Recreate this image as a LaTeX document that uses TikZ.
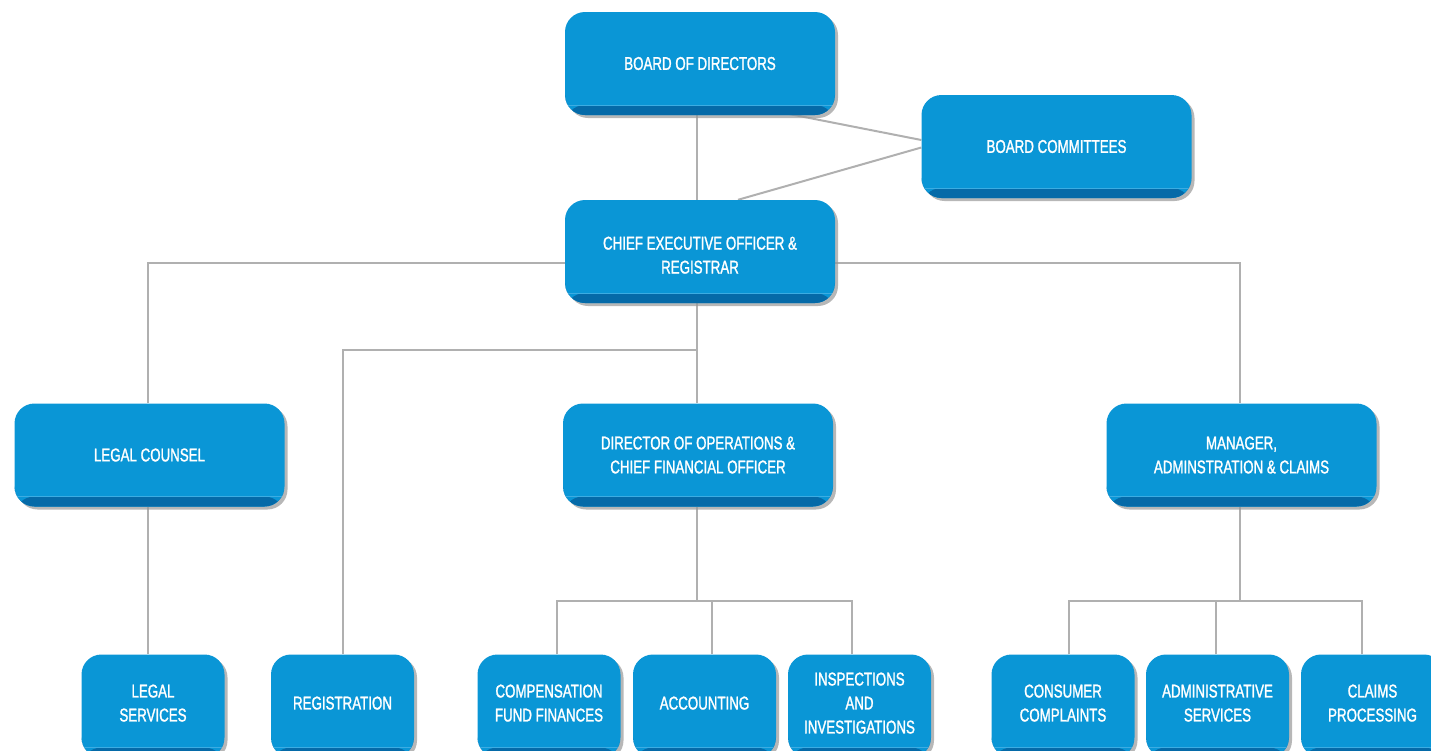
\documentclass[tikz,border=0pt]{standalone}
\usepackage{fontspec}
\setmainfont[FakeStretch=0.72,FakeBold=1.3]{Liberation Sans}
\usetikzlibrary{shadows}
\definecolor{boxblue}{RGB}{10,150,214}
\definecolor{boxdark}{RGB}{5,106,168}
\definecolor{boxlight}{RGB}{60,172,226}
\definecolor{linegray}{RGB}{176,176,176}
\pgfdeclarelayer{background}
\pgfsetlayers{background,main}
\tikzset{
 box/.style={rounded corners=20pt, fill=boxblue, text=white, align=center,
   font=\fontsize{18.5}{24}\selectfont, inner sep=0pt, minimum height=103pt,
   drop shadow={shadow xshift=3pt, shadow yshift=-3pt, fill=black!40, opacity=0.7},
   path picture={
     \fill[boxdark] ([yshift=10pt]path picture bounding box.south west) rectangle (path picture bounding box.south east);
     \draw[boxlight, line width=0.8pt] ([yshift=10pt]path picture bounding box.south west) -- ([yshift=10pt]path picture bounding box.south east);}},
 bigbox/.style={box, minimum width=270pt},
 smallbox/.style={box, minimum width=143pt, text depth=6pt},
 conn/.style={draw=linegray, line width=2pt}
}
\begin{document}
\begin{tikzpicture}[x=1pt,y=-1pt]
\useasboundingbox (0,0) rectangle (1431,750);
\clip (0,0) rectangle (1431,750);
\node[bigbox] (bod) at (700,63.5) {BOARD OF DIRECTORS};
\node[bigbox] (com) at (1056.5,146.5) {BOARD COMMITTEES};
\node[bigbox] (ceo) at (700,251.5) {\rule{0pt}{20.3pt}CHIEF EXECUTIVE OFFICER \&\\REGISTRAR};
\node[bigbox] (lc) at (149.5,455) {LEGAL COUNSEL};
\node[bigbox] (dir) at (698,455) {DIRECTOR OF OPERATIONS \&\\CHIEF FINANCIAL OFFICER};
\node[bigbox] (mgr) at (1241.5,455) {MANAGER,\\ADMINSTRATION \& CLAIMS};
\node[smallbox] (ls) at (153,706) {LEGAL\\SERVICES};
\node[smallbox] (reg) at (342.5,706) {REGISTRATION};
\node[smallbox] (comp) at (549,706) {COMPENSATION\\FUND FINANCES};
\node[smallbox] (acc) at (704.5,706) {ACCOUNTING};
\node[smallbox] (insp) at (859.5,706) {INSPECTIONS\\AND\\INVESTIGATIONS};
\node[smallbox] (cons) at (1063,706) {CONSUMER\\COMPLAINTS};
\node[smallbox] (adm) at (1217.5,706) {ADMINISTRATIVE\\SERVICES};
\node[smallbox] (clm) at (1372.5,706) {CLAIMS\\PROCESSING};
\begin{pgfonlayer}{background}
\draw[conn] ([xshift=-3pt]bod.south) -- ([xshift=-3pt]ceo.north);
\draw[conn] ([xshift=29pt,yshift=13pt]bod.south) -- ([yshift=6.5pt]com.west);
\draw[conn] ([yshift=-1pt]com.west) -- ([xshift=38pt]ceo.north);
\draw[conn] ([yshift=-11.5pt]ceo.west) -| ([xshift=-1.5pt]lc.north);
\draw[conn] ([yshift=-11.5pt]ceo.east) -| ([xshift=-1.5pt]mgr.north);
\draw[conn] ([xshift=-3pt]ceo.south) -- ([xshift=-1pt]dir.north);
\coordinate (rj) at ([xshift=-3pt,yshift=-47pt]ceo.south);
\draw[conn] (rj) -| (reg.north);
\draw[conn] ([xshift=-1.5pt]lc.south) -- ([xshift=-1.5pt]lc.south |- ls.north);
\coordinate (dj) at ([xshift=-1pt,yshift=-94pt]dir.south);
\draw[conn] ([xshift=-1pt]dir.south) -- (dj);
\draw[conn] ([xshift=8pt]comp.north) |- (dj);
\draw[conn] ([xshift=7.5pt]acc.north) |- (dj);
\draw[conn] ([xshift=-7.5pt]insp.north) |- (dj);
\coordinate (mj) at ([xshift=-1.5pt,yshift=-94pt]mgr.south);
\draw[conn] ([xshift=-1.5pt]mgr.south) -- (mj);
\draw[conn] ([xshift=6pt]cons.north) |- (mj);
\draw[conn] ([xshift=-1.5pt]adm.north) |- (mj);
\draw[conn] ([xshift=-10.5pt]clm.north) |- (mj);
\end{pgfonlayer}
\end{tikzpicture}
\end{document}
